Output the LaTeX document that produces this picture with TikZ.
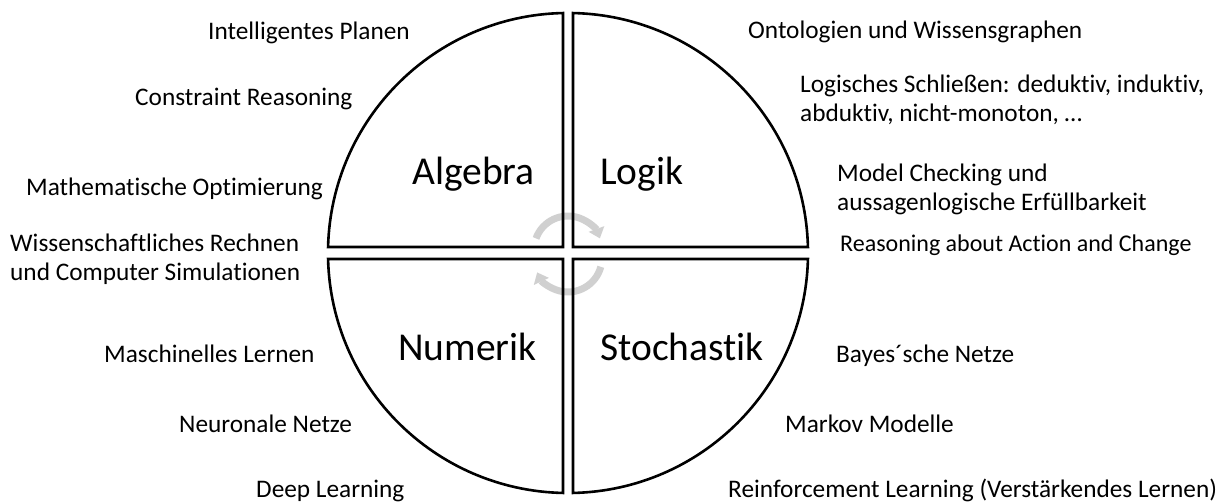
\documentclass[tikz,border=0pt]{standalone}
\usepackage{fontspec}
\setmainfont{Carlito}[Ligatures=NoCommon]
\usetikzlibrary{arrows.meta}
\definecolor{arrowgray}{RGB}{208,208,208}
\begin{document}
\begin{tikzpicture}[x=1pt,y=-1pt,
  quad/.style={draw=black,line width=2.6pt,line join=miter},
  lbl/.style={anchor=base west,inner sep=0pt,font=\fontsize{25.3}{30}\selectfont},
  lbls/.style={anchor=base west,inner sep=0pt,font=\fontsize{24}{29}\selectfont},
  big/.style={anchor=base west,inner sep=0pt,font=\fontsize{39.5}{46}\selectfont},
  cyc/.style={draw=arrowgray,line width=7pt,-{Triangle[width=16pt,length=10pt]}}]
\useasboundingbox (0,0) rectangle (1220,502);
% rotating arrows (under the quadrant outlines)
\draw[cyc] (536,238.4) arc[start angle=-160,end angle=-20,radius=34];
\draw[cyc] (600.8,266.8) arc[start angle=15,end angle=155,radius=34];
% quadrants
\draw[quad] (563,247) -- (563,13.05) arc[start angle=-91.19,end angle=-178.57,radius=240] -- cycle;
\draw[quad] (573,247) -- (573,13.05) arc[start angle=-88.81,end angle=-1.43,radius=240] -- cycle;
\draw[quad] (563,259) -- (563,492.95) arc[start angle=91.19,end angle=178.57,radius=240] -- cycle;
\draw[quad] (573,259) -- (573,492.95) arc[start angle=88.81,end angle=1.43,radius=240] -- cycle;
% quadrant titles
\node[big] (alg) at (412,185) {Algebra};
\node[big] (log) at (600,185) {Logik};
\node[big] (num) at (398,360) {Numerik};
\node[big] (sto) at (600,360) {Stochastik};
% left labels
\node[lbl] (l1) at (208,40) {Intelligentes Planen};
\node[lbl] (l2) at (135,106) {Constraint Reasoning};
\node[lbl] (l3) at (26,196) {Mathematische Optimierung};
\node[lbl] (l4a) at (10,252) {Wissenschaftliches Rechnen};
\node[lbl] (l4b) at (10,281) {und Computer Simulationen};
\node[lbl] (l5) at (104,362) {Maschinelles Lernen};
\node[lbl] (l6) at (179,432) {Neuronale Netze};
\node[lbl] (l7) at (256,497) {Deep Learning};
% right labels
\node[lbl] (r1) at (748,39) {Ontologien und Wissensgraphen};
\node[lbl] (r2a) at (800,93) {Logisches Schließen: deduktiv, induktiv,};
\node[lbl] (r2b) at (800,122) {abduktiv, nicht-monoton, …};
\node[lbl] (r3a) at (837,182) {Model Checking und};
\node[lbl] (r3b) at (837,211) {aussagenlogische Erfüllbarkeit};
\node[lbls] (r4) at (840,252) {Reasoning about Action and Change};
\node[lbl] (r5) at (836,362) {Bayes´sche Netze};
\node[lbl] (r6) at (785,432) {Markov Modelle};
\node[lbl] (r7) at (728,497) {Reinforcement Learning (Verstärkendes Lernen)};
\end{tikzpicture}
\end{document}
